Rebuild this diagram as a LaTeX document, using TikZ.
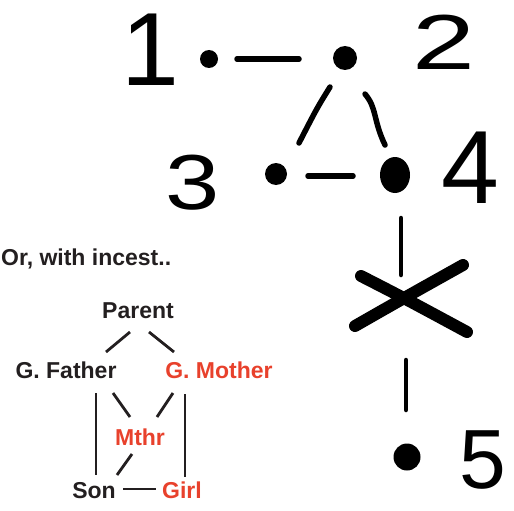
\documentclass[tikz,border=0pt]{standalone}
\usepackage{fontspec}
\setmainfont{Liberation Sans}
\usetikzlibrary{calc,shapes.geometric}
\definecolor{ink}{HTML}{231F20}
\definecolor{redt}{HTML}{E8412C}
\tikzset{
  lbl/.style={anchor=base,inner sep=0pt,font=\fontsize{23}{23}\selectfont\bfseries,text=ink},
  rlbl/.style={lbl,text=redt},
  thin/.style={draw=ink,line width=2.8pt},
  pen/.style={draw=black,line width=5.5pt,line cap=round,line join=round},
  dot/.style={circle,fill=black,inner sep=0pt},
  digit/.style={inner sep=0pt,text=black}
}
\begin{document}
\begin{tikzpicture}[x=1pt,y=-1pt]
\useasboundingbox (0,0) rectangle (514,511);
% top hand-drawn graph
\node[dot,minimum size=18pt] (d1) at (209,59) {};
\node[dot,minimum size=24pt] (d2) at (345,58) {};
\node[dot,minimum size=22pt] (d3) at (276,174) {};
\node[ellipse,fill=black,inner sep=0pt,minimum width=30pt,minimum height=36pt] (d4) at (395,175) {};
\node[dot,minimum size=27pt] (d5) at (407,457) {};
\coordinate (xc) at (404,298);
\node[digit,font=\fontsize{104}{104}\selectfont] (n1) at (150,50) {1};
\node[digit,font=\fontsize{78}{78}\selectfont] (n2) at (444,42) {\scalebox{1.45}[1]{2}};
\node[digit,font=\fontsize{78}{78}\selectfont] (n3) at (193,183) {\scalebox{1.25}[1]{3}};
\node[digit,font=\fontsize{104}{104}\selectfont] (n4) at (470,168) {4};
\node[digit,font=\fontsize{84}{84}\selectfont] (n5) at (483,460) {5};
\draw[pen] ($(d1)+(28,0)$) -- ($(d2)+(-46,1)$);
\draw[pen] ($(d3)+(32,2)$) -- ($(d4)+(-42,1)$);
\draw[pen] ($(d2)+(-15,29)$) .. controls ($(d2)+(-28,50)$) .. ($(d3)+(23,-31)$);
\draw[pen] ($(d2)+(20,36)$) .. controls ($(d2)+(32,50)$) and ($(d4)+(-22,-55)$) .. ($(d4)+(-10,-30)$);
\draw[pen,line width=4.5pt] ($(d4)+(6,43)$) -- ($(xc)+(-3,-23)$);
\draw[pen,line width=4.5pt] ($(xc)+(2,62)$) -- ($(d5)+(-1,-47)$);
\draw[pen,line width=12pt] ($(xc)+(-43,-22)$) .. controls ($(xc)+(0,0)$) .. ($(xc)+(63,34)$);
\draw[pen,line width=12pt] ($(xc)+(-49,28)$) .. controls ($(xc)+(0,0)$) .. ($(xc)+(59,-33)$);
% family graph
\node[lbl,anchor=base west] (title) at (1,265) {Or, with incest..};
\node[lbl] (par) at (138,318) {Parent};
\node[lbl] (gf) at (66,378) {G. Father};
\node[rlbl] (gm) at (219,378) {G. Mother};
\node[rlbl] (mthr) at (140,445) {Mthr};
\node[lbl] (son) at (94,498) {Son};
\node[rlbl] (girl) at (182,498) {Girl};
\draw[thin] ($(par.base)+(-8,14)$) -- ($(gf.base)+(40,-26)$);
\draw[thin] ($(par.base)+(11,14)$) -- ($(gm.base)+(-45,-26)$);
\draw[thin] ($(gf.base)+(47,15)$) -- ($(mthr.base)+(-10,-28)$);
\draw[thin] ($(gm.base)+(-46,15)$) -- ($(mthr.base)+(17,-28)$);
\draw[thin] ($(gf.base)+(30,15)$) -- ($(son.base)+(2,-23)$);
\draw[thin] ($(gm.base)+(-34,16)$) -- ($(girl.base)+(3,-21)$);
\draw[thin] ($(mthr.base)+(-8,9)$) -- ($(son.base)+(23,-23)$);
\draw[thin] ($(son.base)+(29,-9)$) -- ($(girl.base)+(-26,-9)$);
\end{tikzpicture}
\end{document}
